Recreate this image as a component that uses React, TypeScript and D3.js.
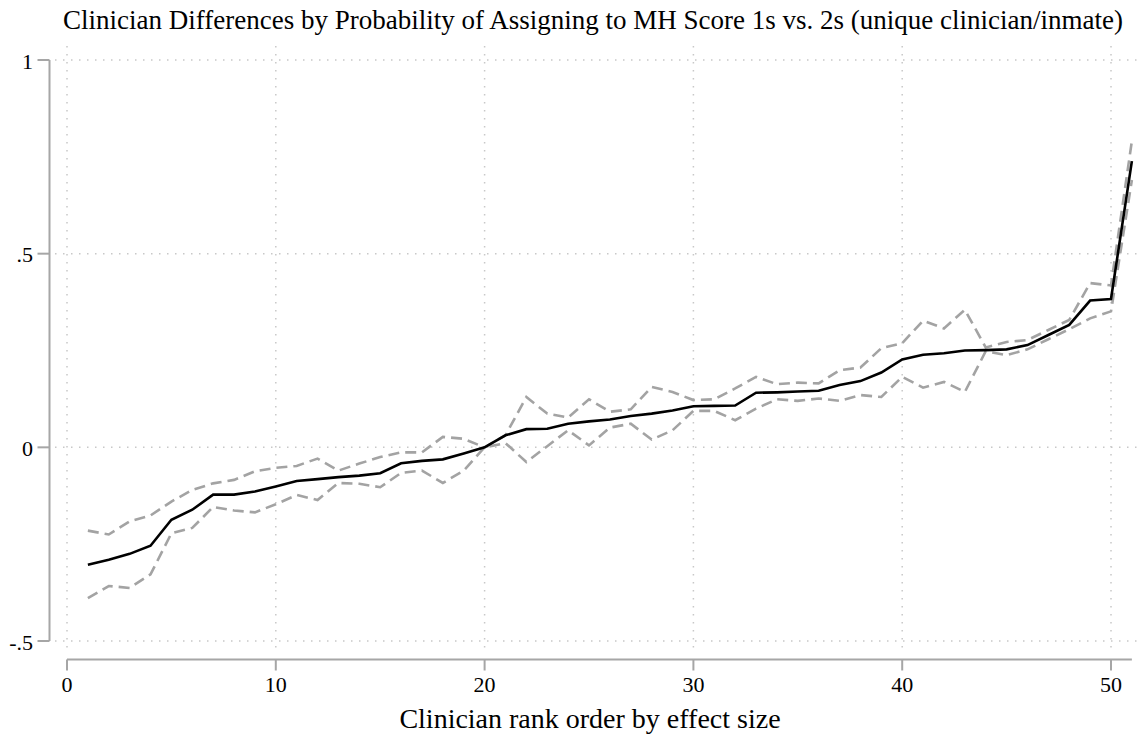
import React from "react";
import * as d3 from "d3";

// Clinician effect estimates with lower/upper confidence bounds, by rank order
const ranks: number[] = d3.range(1, 52);

const estimate: number[] = [
  -0.303, -0.29, -0.275, -0.254, -0.187, -0.161, -0.122, -0.122, -0.114, -0.101,
  -0.087, -0.082, -0.077, -0.073, -0.067, -0.041, -0.035, -0.031, -0.016, 0.0,
  0.031, 0.047, 0.048, 0.061, 0.067, 0.072, 0.081, 0.087, 0.095, 0.106,
  0.107, 0.108, 0.141, 0.142, 0.144, 0.146, 0.161, 0.171, 0.193, 0.227,
  0.239, 0.243, 0.25, 0.251, 0.253, 0.264, 0.29, 0.316, 0.379, 0.383, 0.739,
];

const upper: number[] = [
  -0.215, -0.225, -0.191, -0.176, -0.14, -0.11, -0.093, -0.084, -0.062, -0.053,
  -0.048, -0.029, -0.06, -0.042, -0.025, -0.013, -0.013, 0.027, 0.022, 0.0,
  0.031, 0.13, 0.087, 0.077, 0.124, 0.092, 0.098, 0.156, 0.143, 0.122,
  0.124, 0.152, 0.182, 0.163, 0.167, 0.165, 0.199, 0.206, 0.256, 0.269,
  0.327, 0.307, 0.355, 0.258, 0.272, 0.277, 0.303, 0.329, 0.424, 0.418, 0.791,
];

const lower: number[] = [
  -0.389, -0.358, -0.363, -0.328, -0.222, -0.208, -0.154, -0.163, -0.168, -0.147,
  -0.123, -0.136, -0.092, -0.094, -0.103, -0.066, -0.06, -0.092, -0.06, 0.0,
  0.011, -0.038, 0.003, 0.044, 0.005, 0.051, 0.061, 0.02, 0.044, 0.094,
  0.094, 0.07, 0.1, 0.124, 0.12, 0.126, 0.12, 0.135, 0.13, 0.182,
  0.154, 0.169, 0.143, 0.248, 0.238, 0.253, 0.279, 0.305, 0.333, 0.351, 0.69,
];

const xTicks: number[] = [0, 10, 20, 30, 40, 50];
const yTicks: number[] = [-0.5, 0, 0.5, 1];
const yTickLabels: string[] = ["-.5", "0", ".5", "1"];

const title =
  "Clinician Differences by Probability of Assigning to MH Score 1s vs. 2s (unique clinician/inmate)";
const xTitle = "Clinician rank order by effect size";

const W = 1139;
const H = 742;
const FONT = "'Liberation Serif', 'Times New Roman', serif";

export default function App() {
  const x = d3.scaleLinear().domain([0, 50]).range([67, 1111]);
  const y = d3.scaleLinear().domain([-0.5, 1]).range([641, 60]);

  const plotTop = 46;
  const plotBottom = 652;
  const plotLeft = 55;
  const plotRight = 1139;
  const yAxisX = 49.5;
  const xAxisY = 659.5;
  const axisColor = "#a6a6a6";
  const gridColor = "#c8c8c8";

  const mkLine = (vals: number[]) =>
    d3
      .line<number>()
      .x((_, i) => x(ranks[i]))
      .y((v) => y(v))(vals) as string;

  return (
    <svg
      width={W}
      height={H}
      style={{ position: "absolute", left: 0, top: 0, background: "#fff" }}
      fontFamily={FONT}
    >
      <rect x={0} y={0} width={W} height={H} fill="#fff" />

      {/* grid */}
      {xTicks.map((t) => (
        <line
          key={"gx" + t}
          x1={x(t)}
          x2={x(t)}
          y1={plotTop}
          y2={plotBottom}
          stroke={gridColor}
          strokeWidth={1.5}
          strokeDasharray="1.5 6.5"
        />
      ))}
      {yTicks.map((t) => (
        <line
          key={"gy" + t}
          x1={plotLeft}
          x2={plotRight}
          y1={y(t)}
          y2={y(t)}
          stroke={gridColor}
          strokeWidth={1.5}
          strokeDasharray="1.5 6.5"
        />
      ))}

      {/* y axis */}
      <line x1={yAxisX} x2={yAxisX} y1={y(1)} y2={y(-0.5)} stroke={axisColor} strokeWidth={2} />
      {yTicks.map((t, i) => (
        <g key={"yt" + t}>
          <line x1={yAxisX - 12} x2={yAxisX} y1={y(t)} y2={y(t)} stroke={axisColor} strokeWidth={2} />
          <text
            x={33}
            y={y(t) + 1}
            textAnchor="end"
            dominantBaseline="central"
            fontSize={22}
            fill="#000"
          >
            {yTickLabels[i]}
          </text>
        </g>
      ))}

      {/* x axis */}
      <line x1={x(0)} x2={x(51)} y1={xAxisY} y2={xAxisY} stroke={axisColor} strokeWidth={2} />
      {xTicks.map((t) => (
        <g key={"xt" + t}>
          <line x1={x(t)} x2={x(t)} y1={xAxisY} y2={xAxisY + 11} stroke={axisColor} strokeWidth={2} />
          <text x={x(t)} y={692} textAnchor="middle" fontSize={22} fill="#000">
            {t}
          </text>
        </g>
      ))}

      {/* confidence bounds */}
      <path
        d={mkLine(upper)}
        fill="none"
        stroke="#a3a3a3"
        strokeWidth={2.6}
        strokeDasharray="11 6"
      />
      <path
        d={mkLine(lower)}
        fill="none"
        stroke="#a3a3a3"
        strokeWidth={2.6}
        strokeDasharray="11 6"
      />
      {/* point estimates */}
      <path d={mkLine(estimate)} fill="none" stroke="#000" strokeWidth={2.6} />

      {/* titles */}
      <text x={593} y={29} textAnchor="middle" fontSize={27} fill="#000">
        {title}
      </text>
      <text x={590} y={728} textAnchor="middle" fontSize={28} fill="#000">
        {xTitle}
      </text>
    </svg>
  );
}
